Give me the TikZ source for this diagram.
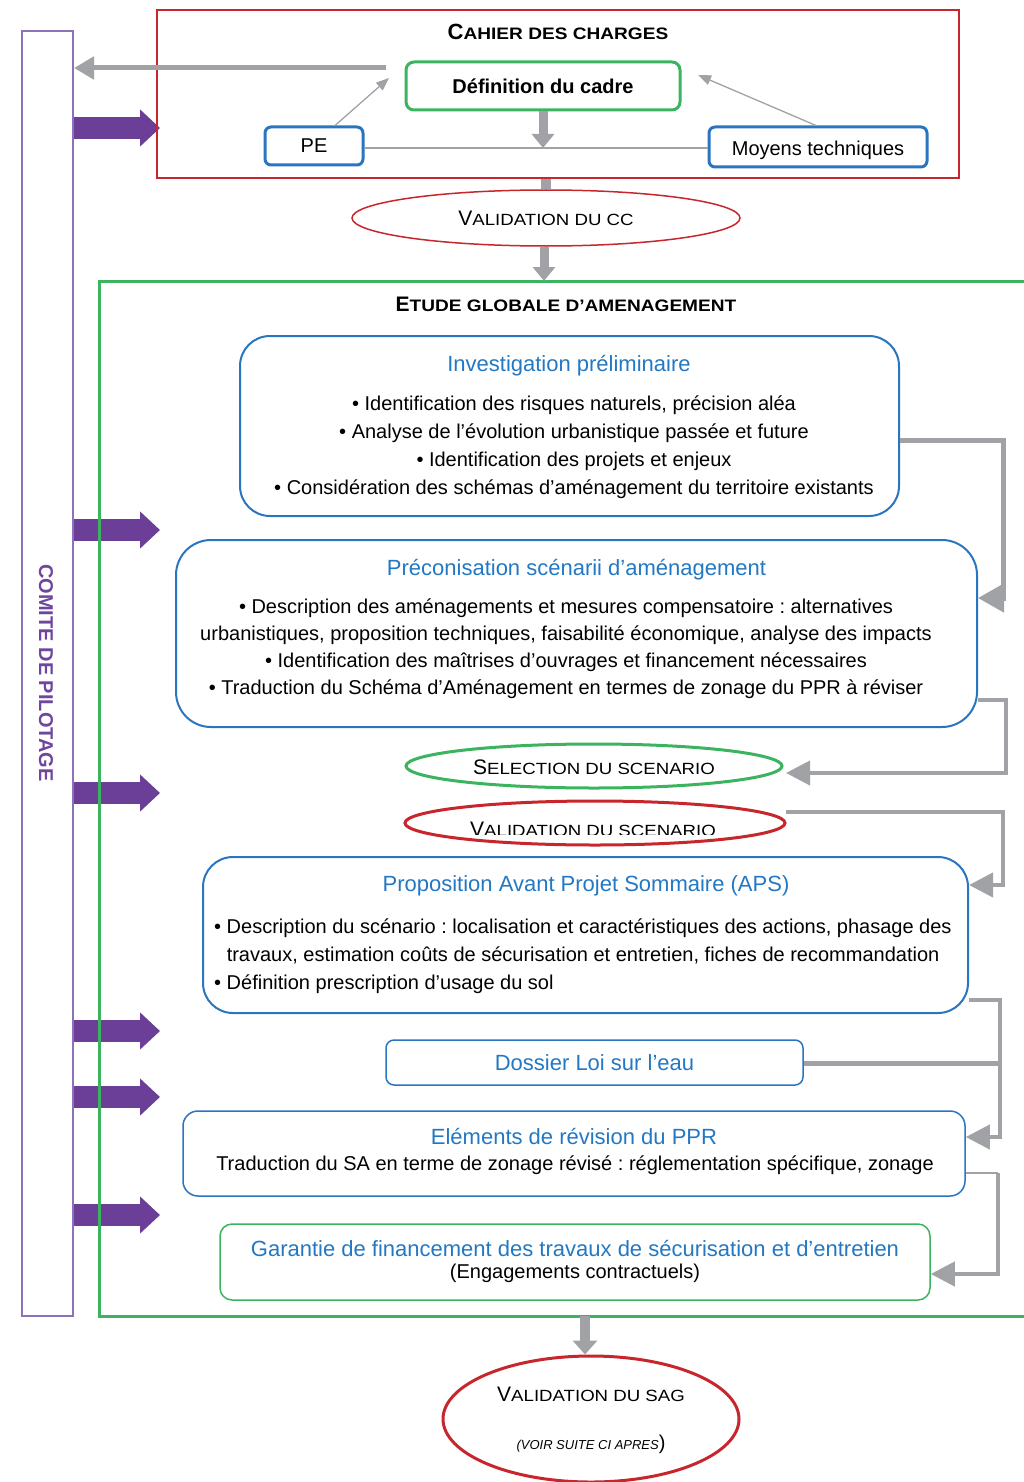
\documentclass[tikz,border=0pt]{standalone}
\usepackage{fontspec}
\setmainfont{Liberation Sans}
\usetikzlibrary{arrows.meta,shapes.geometric,calc}
\frenchspacing
\definecolor{cgray}{RGB}{160,162,166}
\definecolor{cred}{RGB}{200,38,45}
\definecolor{cgreen}{RGB}{60,180,95}
\definecolor{cblue}{RGB}{42,117,192}
\definecolor{ctblue}{RGB}{35,120,195}
\definecolor{cparrow}{RGB}{107,63,152}
\definecolor{cpframe}{RGB}{140,115,185}
\definecolor{cptext}{RGB}{110,70,160}
\newcommand{\fsz}[1]{\fontsize{#1}{#1}\selectfont}
\newcommand{\mysc}[4]{{\fsz{#1}#2}\scalebox{1.15}[1]{\fsz{#3}#4}}
\begin{document}
\begin{tikzpicture}[x=1pt,y=-1pt,
  box/.style={draw=cblue,line width=2pt,rounded corners=#1,inner sep=0pt},
  body/.style={font=\fsz{20}\frenchspacing,align=center,inner sep=0pt},
  btitle/.style={font=\fsz{22},text=ctblue,inner sep=0pt},
  bigarrow/.style={draw=cgray,line width=5pt,-{Triangle[length=26pt,width=28pt]}},
  purplearrow/.style={draw=cparrow,line width=22pt,-{Triangle[length=20pt,width=36pt]}},
  thinarrow/.style={draw=cgray,line width=1.3pt,-{Triangle[length=13pt,width=10pt]}},
]
\useasboundingbox (0,0) rectangle (1024,1482);

% Comite de pilotage
\node[draw=cpframe,line width=2pt,minimum width=51pt,minimum height=1285pt,inner sep=0pt] (comite) at (47.5,673.5) {};
\node[rotate=-90,text=cptext,font=\bfseries\fsz{20},inner sep=0pt] (comitetxt) at (46,673) {COMITE DE PILOTAGE};

% purple arrows
\foreach \yy/\nm in {128/pa1,530/pa2,793/pa3,1031/pa4,1097/pa5,1215/pa6}{
  \coordinate (\nm) at (160,\yy);
  \draw[purplearrow] (comite.east |- \nm) -- (\nm);
}

% Cahier des charges
\node[draw=cred,line width=2pt,minimum width=802pt,minimum height=168pt,inner sep=0pt] (cdc) at (558,94) {};
\node[font=\bfseries,inner sep=0pt] (cdctitle) at (558,32) {\mysc{22}{C}{16.6}{AHIER DES CHARGES}};
\node[draw=cgreen,line width=3pt,rounded corners=8pt,minimum width=274pt,minimum height=48pt,inner sep=0pt,font=\bfseries\fsz{20}] (def) at (543,86) {Définition du cadre};
\node[draw=cblue,line width=3pt,rounded corners=6pt,minimum width=98pt,minimum height=38pt,inner sep=0pt,font=\fsz{20}] (pe) at (314,146) {PE};
\node[draw=cblue,line width=3pt,rounded corners=6pt,minimum width=218pt,minimum height=40pt,inner sep=0pt] (moy) at (818,147) {};
\node[font=\fsz{20},inner sep=0pt] (moytxt) at (818,150) {Moyens techniques};
\coordinate (mid) at (543,148);
\coordinate (defl) at (386,68);
\coordinate (pein) at (389,78);
\coordinate (moyin) at (698,75);
\draw[cgray,line width=1.5pt] (pe.east |- mid) -- (moy.west |- mid);
\draw[thinarrow] ($(pe.north)+(21,0)$) -- (pein);
\draw[thinarrow] ($(moy.north)+(-2,0)$) -- (moyin);
\draw[draw=cgray,line width=9pt,-{Triangle[length=14pt,width=22pt]}] (def.south) -- (mid);
\draw[draw=cgray,line width=5pt,-{Triangle[length=20pt,width=22pt]}] (defl) -- (comite.east |- defl);

% Validation du CC
\node[ellipse,draw=cred,line width=1.5pt,minimum width=388pt,minimum height=56pt,inner sep=0pt] (valcc) at (546,218) {};
\node[inner sep=0pt] (valcctxt) at (546,218) {\mysc{21}{V}{16.2}{ALIDATION DU CC}};
\draw[cgray,line width=10pt] (cdc.south -| valcc.north) -- (valcc.north);

% Etude globale frame
\draw[cgreen,line width=3pt] (1030,281) -- (99,281) -- (99,1316) -- (1030,1316);
\coordinate (egtop) at (544,281);
\draw[draw=cgray,line width=9pt,-{Triangle[length=14pt,width=22pt]}] (valcc.south -| egtop) -- (egtop);
\node[font=\bfseries,inner sep=0pt] (egtitle) at (566,304) {\mysc{21}{E}{16.6}{TUDE GLOBALE D’AMENAGEMENT}};

% Box 1
\node[box=30pt,minimum width=659pt,minimum height=180pt] (b1) at (569.5,426) {};
\node[btitle] (b1t) at (569,366) {Investigation préliminaire};
\node[body] (b1b) at (574,447) {• Identification des risques naturels, précision aléa\\[8pt]
• Analyse de l’évolution urbanistique passée et future\\[8pt]
• Identification des projets et enjeux\\[8pt]
• Considération des schémas d’aménagement du territoire existants};

% Box 2
\node[box=35pt,minimum width=801pt,minimum height=187pt] (b2) at (576.5,633.5) {};
\node[btitle] (b2t) at (576.5,570) {Préconisation scénarii d’aménagement};
\node[body] (b2b) at (566,649) {• Description des aménagements et mesures compensatoire : alternatives\\[7pt]
urbanistiques, proposition techniques, faisabilité économique, analyse des impacts\\[7pt]
• Identification des maîtrises d’ouvrages et financement nécessaires\\[7pt]
• Traduction du Schéma d’Aménagement en termes de zonage du PPR à réviser};

% ellipses
\node[ellipse,draw=cgreen,line width=3pt,minimum width=376pt,minimum height=44pt,inner sep=0pt] (sel) at (594,766) {};
\node[inner sep=0pt] (seltxt) at (594,767) {\mysc{21}{S}{16.2}{ELECTION DU SCENARIO}};
\node[ellipse,draw=cred,line width=3pt,minimum width=380pt,minimum height=44pt,inner sep=0pt] (vsc) at (595,823) {};
\begin{scope}
\clip (380,790) rectangle (800,834);
\node[inner sep=0pt] (vsctxt) at (593,829) {\mysc{21}{V}{16.2}{ALIDATION DU SCENARIO}};
\end{scope}

% Box 3
\node[box=30pt,minimum width=765pt,minimum height=156pt] (b3) at (585.5,935) {};
\node[btitle] (b3t) at (586,886) {Proposition Avant Projet Sommaire (APS)};
\node[body,align=left,anchor=west] (b3b) at (214,956) {• Description du scénario : localisation et caractéristiques des actions, phasage des\\[8pt]
\phantom{•\ }travaux, estimation coûts de sécurisation et entretien, fiches de recommandation\\[8pt]
• Définition prescription d’usage du sol};

% Box 4
\node[draw=cblue,line width=1.5pt,rounded corners=8pt,minimum width=417pt,minimum height=45pt,inner sep=0pt,font=\fsz{22},text=ctblue] (b4) at (594.5,1062.5) {Dossier Loi sur l’eau};

% Box 5
\node[draw=cblue,line width=1.5pt,rounded corners=15pt,minimum width=782pt,minimum height=85pt,inner sep=0pt] (b5) at (574,1153.5) {};
\node[btitle] (b5t) at (574,1136) {Eléments de révision du PPR};
\node[body] (b5b) at (575,1165) {Traduction du SA en terme de zonage révisé : réglementation spécifique, zonage};

% Box 6
\node[draw=cgreen,line width=1.5pt,rounded corners=12pt,minimum width=710pt,minimum height=76pt,inner sep=0pt] (b6) at (575,1262) {};
\node[btitle] (b6t) at (575,1248) {Garantie de financement des travaux de sécurisation et d’entretien};
\node[body] (b6b) at (575,1273) {(Engagements contractuels)};

% SAG
\node[ellipse,draw=cred,line width=3pt,minimum width=296pt,minimum height=126pt,inner sep=0pt] (sag) at (591,1419) {};
\node[inner sep=0pt] (sagt) at (591,1394) {\mysc{21}{V}{16.2}{ALIDATION DU SAG}};
\node[inner sep=0pt] (sagn) at (591,1444) {{\fsz{13}\itshape (VOIR SUITE CI APRES}{\fsz{20})}};
\coordinate (egbot) at (585,1316);
\draw[draw=cgray,line width=10pt,-{Triangle[length=14pt,width=24pt]}] (egbot) -- (sag.north -| egbot);

% connectors right
\coordinate (c1) at (1003,440);
\coordinate (c1b) at (1003,598);
\draw[bigarrow,line width=5pt] (b1.east |- c1) -- (c1) -- (c1b) -- (b2.east |- c1b);
\coordinate (c2) at (1006,700);
\coordinate (c2b) at (1006,773);
\draw[bigarrow,line width=4pt,-{Triangle[length=24pt,width=24pt]}] (b2.east |- c2) -- (c2) -- (c2b) -- (786,773);
\coordinate (c3a) at (786,812);
\coordinate (c3) at (1003,812);
\coordinate (c3b) at (1003,885);
\draw[bigarrow,line width=4pt,-{Triangle[length=24pt,width=24pt]}] (c3a) -- (c3) -- (c3b) -- (b3.east |- c3b);
\coordinate (c4) at (1000,1000);
\coordinate (c4b) at (1000,1137);
\draw[bigarrow,line width=4pt,-{Triangle[length=24pt,width=24pt]}] (b3.east |- c4) -- (c4) -- (c4b) -- (b5.east |- c4b);
\coordinate (c5) at (1000,1063);
\draw[cgray,line width=5pt] (b4.east |- c5) -- (c5);
\coordinate (c6) at (998,1173);
\coordinate (c6b) at (998,1274);
\draw[cgray,line width=1.5pt] (b5.east |- c6) -- (c6);
\draw[bigarrow,line width=4pt,-{Triangle[length=24pt,width=24pt]}] (c6) -- (c6b) -- (b6.east |- c6b);
\end{tikzpicture}
\end{document}
